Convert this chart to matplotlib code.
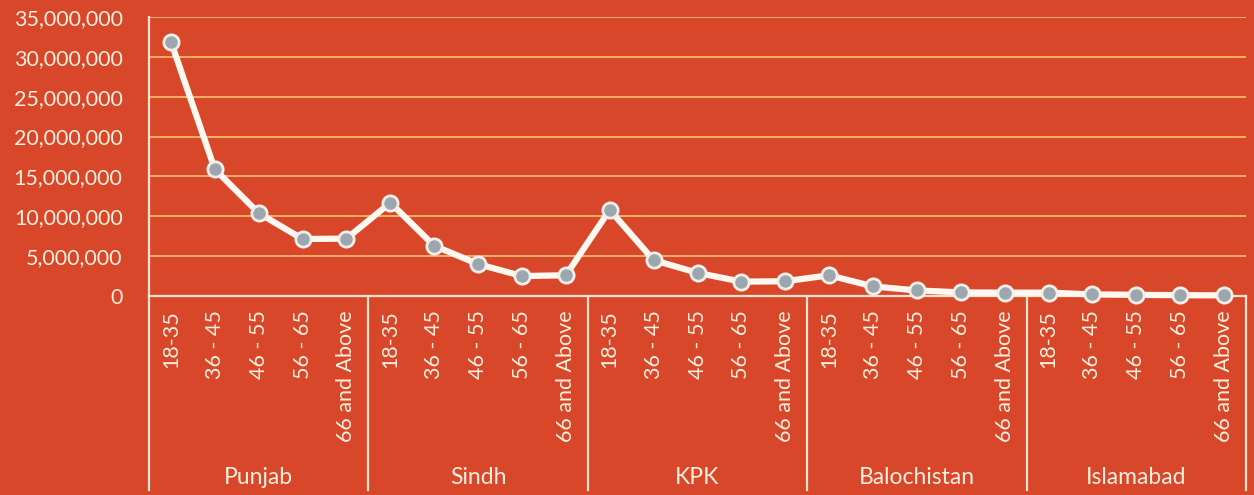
import matplotlib
matplotlib.use("Agg")
import matplotlib.pyplot as plt
from matplotlib.ticker import FuncFormatter
from matplotlib.lines import Line2D

regions = ["Punjab", "Sindh", "KPK", "Balochistan", "Islamabad"]
age_groups = ["18-35", "36 - 45", "46 - 55", "56 - 65", "66 and Above"]
punjab = [31900000, 15900000, 10400000, 7150000, 7200000]
sindh = [11700000, 6300000, 4000000, 2500000, 2600000]
kpk = [10800000, 4500000, 2900000, 1800000, 1850000]
balochistan = [2600000, 1200000, 700000, 450000, 420000]
islamabad = [420000, 200000, 150000, 100000, 80000]
yticks = [0, 5000000, 10000000, 15000000, 20000000, 25000000, 30000000, 35000000]

values = punjab + sindh + kpk + balochistan + islamabad
labels = age_groups * len(regions)

BG = "#D8472A"
TXT = "#FCEFDD"
GRID = "#F6B86A"
AX = "#F4E4CE"

plt.rcParams['font.family'] = ['Lato', 'DejaVu Sans']

W, H = 1254, 495
fig = plt.figure(figsize=(W / 100, H / 100), dpi=100, facecolor=BG)
left, right, top, bottom = 149, 1246, 17, 296
ax = fig.add_axes([left / W, 1 - bottom / H, (right - left) / W, (bottom - top) / H])
ax.set_facecolor(BG)

x = list(range(len(values)))
ax.plot(x, values, color="#FFF8F0", lw=4.5, marker="o", markersize=11,
        markerfacecolor="#9BA6AF", markeredgecolor="#F4EEE8", markeredgewidth=2,
        solid_joinstyle="round", zorder=3, clip_on=False)

ax.set_xlim(-0.5, len(values) - 0.5)
ax.set_ylim(0, 35000000)
ax.set_yticks(yticks)
ax.yaxis.set_major_formatter(FuncFormatter(lambda v, p: f"{int(v):,}"))
ax.grid(axis="y", color=GRID, lw=1.3)
ax.set_axisbelow(True)

for s in ["top", "right"]:
    ax.spines[s].set_visible(False)
ax.spines["left"].set_color(AX)
ax.spines["left"].set_linewidth(1.6)
ax.spines["bottom"].set_color(AX)
ax.spines["bottom"].set_linewidth(1.6)

ax.tick_params(axis="y", length=0, labelsize=15.5, labelcolor=TXT, pad=19)
ax.set_xticks(x)
ax.set_xticklabels(labels, rotation=90, fontsize=15.5, color=TXT)
ax.tick_params(axis="x", length=0, pad=10)

plot_h = bottom - top
sep_depth = (490 - bottom) / plot_h
for i in range(len(regions) + 1):
    xs = i * len(age_groups) - 0.5
    ax.add_line(Line2D([xs, xs], [0, -sep_depth], transform=ax.get_xaxis_transform(),
                       color=AX, lw=1.6, clip_on=False))
label_y = -(477 - bottom) / plot_h
for i, r in enumerate(regions):
    ax.text(i * len(age_groups) + 2, label_y, r, transform=ax.get_xaxis_transform(),
            ha="center", va="center", fontsize=16.5, color=TXT)

fig.savefig("out.png", dpi=100, facecolor=BG)
